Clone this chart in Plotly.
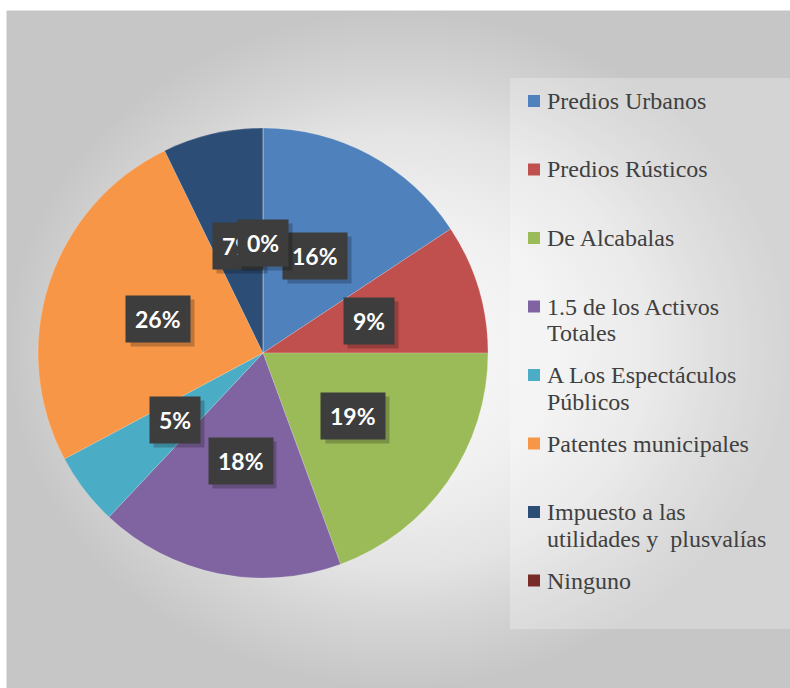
import math
import plotly.graph_objects as go

# datos del gráfico
categorias = [
    "Predios Urbanos",
    "Predios Rústicos",
    "De Alcabalas",
    "1.5 de los Activos<br>Totales",
    "A Los Espectáculos<br>Públicos",
    "Patentes municipales",
    "Impuesto a las<br>utilidades y\u00a0 plusvalías",
    "Ninguno",
]
valores = [15.7, 9.3, 19.4, 17.6, 5.2, 25.6, 7.2, 0.0]
colores = ["#4F81BD", "#C0504D", "#9BBB59", "#8064A2",
           "#4BACC6", "#F79646", "#2C4D75", "#772C2A"]

W, H = 790, 688


def px(x):
    return x / W


def py(y):
    return 1 - y / H


# geometría del pastel (en pixeles)
cx, cy, R = 263, 353, 225

fig = go.Figure()

# fondo con degradado radial
fig.add_trace(go.Scatter(
    x=[px(7), 1.0, 1.0, px(7), px(7)], y=[0, 0, py(11), py(11), 0],
    mode="lines", fill="toself",
    fillgradient=dict(type="radial",
                      colorscale=[[0, "#f9f9f9"], [0.4, "#f0f0f0"], [0.65, "#e3e3e3"],
                                  [0.8, "#d5d5d5"], [1, "#c6c6c6"]]),
    line=dict(color="#c4c4c4", width=1),
    hoverinfo="skip", showlegend=False,
))

fig.add_trace(go.Pie(
    labels=[c.replace("<br>", " ") for c in categorias], values=valores,
    marker=dict(colors=colores, line=dict(color="rgba(255,255,255,0.35)", width=0.5)),
    sort=False, direction="clockwise", rotation=0,
    textinfo="none", showlegend=False,
    domain=dict(x=[px(cx - R), px(cx + R)], y=[py(cy + R), py(cy - R)]),
))

# etiquetas de porcentaje con caja oscura
total = sum(valores)
r_lab = 0.49 * R
acum = 0
anots = []
for v in valores:
    ang = 2 * math.pi * (acum + v / 2) / total
    acum += v
    x = cx + r_lab * math.sin(ang)
    y = cy - r_lab * math.cos(ang)
    txt = f"{round(v / total * 100)}%"
    base = dict(x=px(x), y=py(y), xref="paper", yref="paper", showarrow=False,
                xanchor="center", yanchor="middle", borderpad=9)
    # sombra
    anots.append(dict(base, text=txt, bgcolor="rgba(0,0,0,0.22)", xshift=4, yshift=-4,
                      font=dict(family="Lato", size=23, color="rgba(0,0,0,0)")))
    anots.append(dict(base, text=f"<b>{txt}</b>", bgcolor="#3d3d3d",
                      font=dict(family="Lato", size=23, color="white")))

# leyenda manual
shapes = [dict(type="rect", xref="paper", yref="paper",
               x0=px(510), x1=1.0, y0=py(629), y1=py(78),
               fillcolor="rgba(255,255,255,0.25)", line=dict(width=0), layer="above")]
y0_ley, paso, interl = 101, 68.5, 27
for i, (c, col) in enumerate(zip(categorias, colores)):
    yc = y0_ley + paso * i
    shapes.append(dict(type="rect", xref="paper", yref="paper",
                       x0=px(528), x1=px(540), y0=py(yc + 6), y1=py(yc - 6),
                       fillcolor=col, line=dict(width=0), layer="above"))
    for j, linea in enumerate(c.split("<br>")):
        anots.append(dict(x=px(545), y=py(yc + j * interl), xref="paper", yref="paper",
                          xanchor="left", yanchor="middle", showarrow=False,
                          text=linea,
                          font=dict(family="Liberation Serif, Times New Roman, serif",
                                    size=24, color="#404040")))

fig.update_layout(
    width=W, height=H,
    margin=dict(l=0, r=0, t=0, b=0),
    paper_bgcolor="white", plot_bgcolor="rgba(0,0,0,0)",
    xaxis=dict(range=[0, 1], visible=False, fixedrange=True, domain=[0, 1]),
    yaxis=dict(range=[0, 1], visible=False, fixedrange=True, domain=[0, 1]),
    annotations=anots, shapes=shapes,
    showlegend=False,
)

fig.write_html("out.html", config={"displayModeBar": False},
               post_script="document.body.style.margin='0';")
